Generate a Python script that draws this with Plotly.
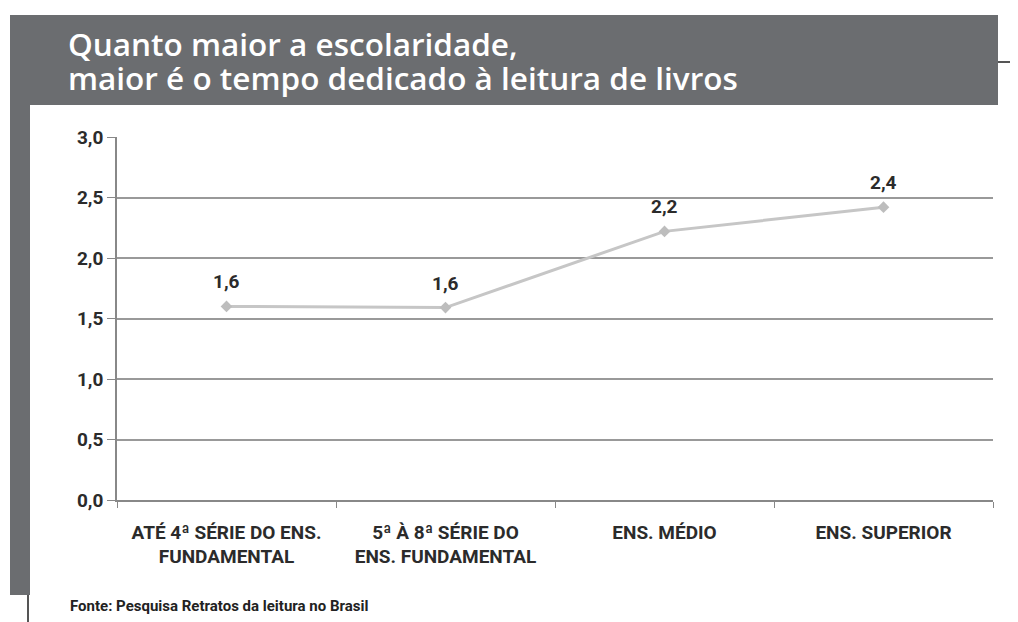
import plotly.graph_objects as go

# dados
categorias = ['ATÉ 4ª SÉRIE DO ENS.<br>FUNDAMENTAL', '5ª À 8ª SÉRIE DO<br>ENS. FUNDAMENTAL',
              'ENS. MÉDIO', 'ENS. SUPERIOR']
horas = [1.6, 1.59, 2.22, 2.42]
y_ticks = [0, 0.5, 1.0, 1.5, 2.0, 2.5, 3.0]

titulo_1 = 'Quanto maior a escolaridade,'
titulo_2 = 'maior é o tempo dedicado à leitura de livros'
fonte = 'Fonte: Pesquisa Retratos da leitura no Brasil'

# a página tem 8px de margem no body, tudo é deslocado por isso
OFF = 8
W, H = 1018 - OFF, 622 - OFF
ML, MT = 117 - OFF, 137 - OFF
MR = W - (993 - OFF)
MB = H - (500 - OFF)
PW, PH = W - ML - MR, H - MT - MB


def px_x(p):
    return (p - OFF - ML) / PW


def px_y(p):
    return (H - MB - (p - OFF)) / PH


CINZA = '#6b6d70'
FONTE_COND = 'Roboto, Liberation Sans Narrow, sans-serif'
TXT = '#2b2b2b'

fig = go.Figure()
fig.add_trace(go.Scatter(
    x=categorias, y=horas, mode='lines+markers',
    line=dict(color='#c6c6c6', width=3),
    marker=dict(color='#bdbdbd', size=9, symbol='diamond'),
    showlegend=False, cliponaxis=False,
))

shapes = [
    # faixa do título
    dict(type='rect', xref='paper', yref='paper', x0=px_x(10), x1=px_x(998), y0=px_y(105), y1=px_y(15),
         fillcolor=CINZA, line=dict(width=0), layer='below'),
    # barra lateral
    dict(type='rect', xref='paper', yref='paper', x0=px_x(10), x1=px_x(30), y0=px_y(595), y1=px_y(105),
         fillcolor=CINZA, line=dict(width=0), layer='below'),
    dict(type='line', xref='paper', yref='paper', x0=px_x(28), x1=px_x(28), y0=px_y(622), y1=px_y(595),
         line=dict(color='#555555', width=2)),
    dict(type='line', xref='paper', yref='paper', x0=px_x(998), x1=px_x(1018), y0=px_y(62), y1=px_y(62),
         line=dict(color='#555555', width=2)),
]

fonte_titulo = dict(family='Open Sans, Liberation Sans, sans-serif', size=31.5, color='white', weight=600)
annotations = [
    dict(text=titulo_1, xref='paper', yref='paper', x=px_x(66), y=px_y(44), xanchor='left', yanchor='middle',
         showarrow=False, font=fonte_titulo),
    dict(text=titulo_2, xref='paper', yref='paper', x=px_x(66), y=px_y(77), xanchor='left', yanchor='middle',
         showarrow=False, font=fonte_titulo),
    dict(text=fonte, xref='paper', yref='paper', x=px_x(68), y=px_y(606), xanchor='left', yanchor='middle',
         showarrow=False, font=dict(family=FONTE_COND, size=15, color='#222222', weight='bold')),
]

# rótulos dos valores acima dos pontos
for cat, v in zip(categorias, horas):
    annotations.append(dict(x=cat, y=v, text=f'{v:.1f}'.replace('.', ','), showarrow=False,
                            yanchor='bottom', yshift=11,
                            font=dict(family=FONTE_COND, size=19, color=TXT, weight='bold')))

fig.update_layout(
    width=W, height=H, autosize=False,
    margin=dict(l=ML, r=MR, t=MT, b=MB),
    paper_bgcolor='white', plot_bgcolor='white',
    shapes=shapes, annotations=annotations,
    separators=',.',
    xaxis=dict(type='category', range=[-0.5, 3.5], tickson='boundaries', ticks='outside', ticklen=6,
               tickcolor='#888888', showgrid=False, showline=True, linecolor='#888888', linewidth=1.5,
               ticklabelstandoff=14,
               tickfont=dict(family=FONTE_COND, size=19, color=TXT, weight='bold')),
    yaxis=dict(range=[0, 3.0], tickvals=y_ticks, tickformat='.1f', ticks='outside', ticklen=8,
               tickcolor='#888888', showgrid=True, gridcolor='#999999', gridwidth=1.5,
               showline=True, linecolor='#888888', linewidth=1.5, zeroline=False,
               tickfont=dict(family=FONTE_COND, size=19, color=TXT, weight='bold')),
)

fig.write_html('out.html')
